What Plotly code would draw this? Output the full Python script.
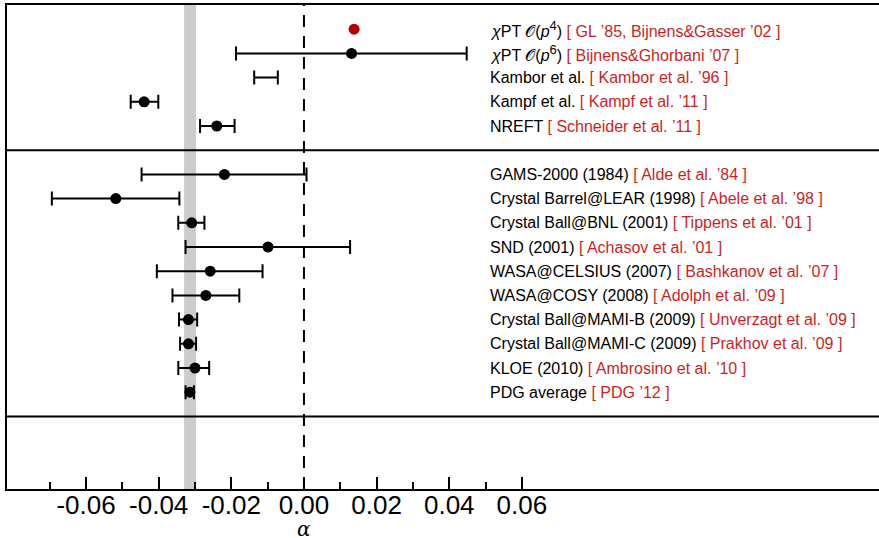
import plotly.graph_objects as go

# ---- data ----
names = [
    "<i>χ</i>PT 𝒪(<i>p</i><sup><span style='font-size:13px'>4</span></sup>)",
    "<i>χ</i>PT 𝒪(<i>p</i><sup><span style='font-size:13px'>6</span></sup>)",
    "Kambor et al.",
    "Kampf et al.",
    "NREFT",
    "GAMS-2000 (1984)",
    "Crystal Barrel@LEAR (1998)",
    "Crystal Ball@BNL (2001)",
    "SND (2001)",
    "WASA@CELSIUS (2007)",
    "WASA@COSY (2008)",
    "Crystal Ball@MAMI-B (2009)",
    "Crystal Ball@MAMI-C (2009)",
    "KLOE (2010)",
    "PDG average",
]
refs = [
    "[ GL ’85, Bijnens&Gasser ’02 ]",
    "[ Bijnens&Ghorbani ’07 ]",
    "[ Kambor et al. ’96 ]",
    "[ Kampf et al. ’11 ]",
    "[ Schneider et al. ’11 ]",
    "[ Alde et al. ’84 ]",
    "[ Abele et al. ’98 ]",
    "[ Tippens et al. ’01 ]",
    "[ Achasov et al. ’01 ]",
    "[ Bashkanov et al. ’07 ]",
    "[ Adolph et al. ’09 ]",
    "[ Unverzagt et al. ’09 ]",
    "[ Prakhov et al. ’09 ]",
    "[ Ambrosino et al. ’10 ]",
    "[ PDG ’12 ]",
]
rows = [1, 2, 3, 4, 5, 7, 8, 9, 10, 11, 12, 13, 14, 15, 16]

# central values and error-bar ends (None = no marker / no bar)
alpha_c = [0.0138, 0.0131, None, -0.0440, -0.0240, -0.0219, -0.0518, -0.0309, -0.0099,
           -0.0258, -0.0270, -0.0318, -0.0318, -0.0300, -0.0314]
alpha_lo = [None, -0.0187, -0.0137, -0.0477, -0.0286, -0.0447, -0.0694, -0.0346, -0.0326,
            -0.0405, -0.0362, -0.0344, -0.0341, -0.0346, -0.0326]
alpha_hi = [None, 0.0448, -0.0072, -0.0401, -0.0191, 0.0007, -0.0343, -0.0274, 0.0127,
            -0.0114, -0.0178, -0.0294, -0.0297, -0.0261, -0.0303]

pdg_band = [-0.0330, -0.0297]
sep_rows = [6, 17]
major_ticks = [-0.06, -0.04, -0.02, 0.00, 0.02, 0.04, 0.06]
major_labels = ["-0.06", "-0.04", "-0.02", "0.00", "0.02", "0.04", "0.06"]
minor_ticks = [-0.07, -0.05, -0.03, -0.01, 0.01, 0.03, 0.05]

RED_TXT = "#cc1f1f"
RED_DOT = "#b30000"
SANS = "Liberation Sans, Arial, Helvetica"

fig = go.Figure()

# points with error bars (black)
bx, by, bp, bm = [], [], [], []
for c, lo, hi, r in zip(alpha_c, alpha_lo, alpha_hi, rows):
    if c is not None and lo is not None:
        bx.append(c); by.append(r); bp.append(hi - c); bm.append(c - lo)
fig.add_trace(go.Scatter(
    x=bx, y=by, mode="markers",
    marker=dict(color="black", size=11),
    error_x=dict(type="data", array=bp, arrayminus=bm, symmetric=False,
                 color="black", thickness=2, width=7),
    showlegend=False, hoverinfo="skip"))

# error bars without a central marker (range only)
for c, lo, hi, r in zip(alpha_c, alpha_lo, alpha_hi, rows):
    if c is None:
        mid = (lo + hi) / 2
        fig.add_trace(go.Scatter(
            x=[mid], y=[r], mode="markers",
            marker=dict(color="rgba(0,0,0,0)", size=1),
            error_x=dict(type="data", array=[hi - mid], arrayminus=[mid - lo],
                         symmetric=False, color="black", thickness=2, width=7),
            showlegend=False, hoverinfo="skip"))

# point without error (red)
for c, lo, r in zip(alpha_c, alpha_lo, rows):
    if c is not None and lo is None:
        fig.add_trace(go.Scatter(x=[c], y=[r], mode="markers",
                                 marker=dict(color=RED_DOT, size=11),
                                 showlegend=False, hoverinfo="skip"))

# PDG band
fig.add_vrect(x0=pdg_band[0], x1=pdg_band[1], fillcolor="#cccccc", line_width=0,
              layer="below")
# zero line
fig.add_shape(type="line", x0=0, x1=0, y0=0, y1=1, xref="x", yref="paper",
              line=dict(color="black", width=2, dash="12px,9px"))
# separators
for s in sep_rows:
    fig.add_shape(type="line", x0=0, x1=1, xref="paper", y0=s, y1=s, yref="y",
                  line=dict(color="black", width=2))

# labels
for n, ref, r in zip(names, refs, rows):
    fig.add_annotation(x=0.0507, y=r, xref="x", yref="y", xanchor="left",
                       yanchor="middle", showarrow=False,
                       text=f"{n} <span style='color:{RED_TXT}'>{ref}</span>",
                       font=dict(family=SANS, size=16, color="black"))

# axis title
fig.add_annotation(x=0, y=-0.0835, xref="x", yref="paper", xanchor="center",
                   yanchor="middle", showarrow=False, text="<i>α</i>",
                   font=dict(family="DejaVu Serif, Liberation Serif", size=20,
                             color="black"))

fig.update_xaxes(range=[-0.08175, 0.1583], showgrid=False, zeroline=False,
                 showline=True, linecolor="black", linewidth=2, mirror=True,
                 ticks="inside", ticklen=12, tickwidth=1.5, tickcolor="black",
                 tickvals=major_ticks, ticktext=major_labels,
                 ticklabelstandoff=-8,
                 tickfont=dict(family=SANS, size=26, color="black"),
                 minor=dict(tickvals=minor_ticks, ticks="inside", ticklen=7,
                            tickwidth=1.5, tickcolor="black"))
fig.update_yaxes(range=[20, 0], showgrid=False, zeroline=False, showticklabels=False,
                 showline=True, linecolor="black", linewidth=2, mirror=False, ticks="")

fig.update_layout(width=879, height=538, plot_bgcolor="white", paper_bgcolor="white",
                  margin=dict(l=7, r=0, t=5, b=49, autoexpand=False))

fig.write_html("out.html", config={"displayModeBar": False},
               post_script="document.body.style.margin='0';document.body.style.overflow='hidden';")
